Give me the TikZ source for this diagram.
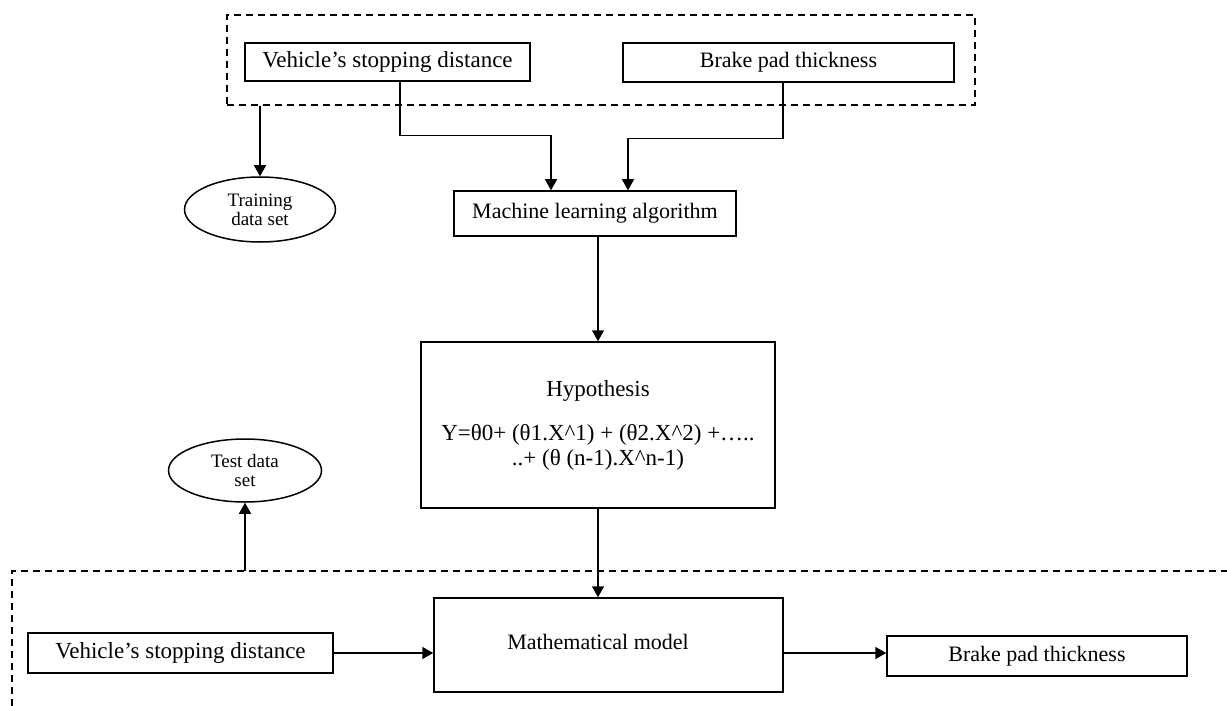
\documentclass[tikz,border=0pt]{standalone}
\usepackage{fontspec}
\setmainfont{Liberation Serif}
\usetikzlibrary{arrows.meta,shapes.geometric}
\begin{document}
\begin{tikzpicture}[x=1pt,y=-1pt,
  box/.style={draw, line width=1.5pt, inner sep=0pt, font=\fontsize{22}{25}\selectfont},
  ell/.style={draw, ellipse, line width=1.5pt, inner sep=0pt, align=center, font=\fontsize{19}{19}\selectfont},
  dsh/.style={draw, line width=1.4pt, dash pattern=on 7pt off 5pt},
  arr/.style={line width=1.5pt, -{Triangle[length=11pt,width=12pt]}}]
\useasboundingbox (0,0) rectangle (1227,706);
\node[dsh, minimum width=748pt, minimum height=90pt, inner sep=0pt] (grp) at (601,60) {};
\node[box, minimum width=285pt, minimum height=38pt, font=\fontsize{23}{25}\selectfont] (vtop) at (387.5,62) {Vehicle’s stopping distance};
\node[box, minimum width=331pt, minimum height=39pt] (btop) at (788.5,62.5) {Brake pad thickness};
\node[ell, minimum width=151pt, minimum height=65pt] (train) at (260,209.5) {Training\\data set};
\node[box, minimum width=282pt, minimum height=45pt] (ml) at (595,213.5) {Machine learning algorithm};
\node[box, minimum width=354pt, minimum height=166pt, align=center, font=\fontsize{23}{25}\selectfont] (hyp) at (598,425) {Hypothesis\\[19pt]Y=θ0+ (θ1.X\textasciicircum1) + (θ2.X\textasciicircum2) +…..\\..+ (θ (n-1).X\textasciicircum n-1)};
\node[ell, minimum width=153pt, minimum height=63pt] (test) at (245,470.5) {Test data\\set};
\node[box, minimum width=349pt, minimum height=94pt] (math) at (608.5,645) {};
\node[font=\fontsize{22}{25}\selectfont] (mtxt) at (598,642) {Mathematical model};
\node[box, minimum width=305pt, minimum height=40pt, font=\fontsize{23}{25}\selectfont] (vbot) at (180.5,653) {Vehicle’s stopping distance};
\node[box, minimum width=300pt, minimum height=40pt] (bbot) at (1037,656) {Brake pad thickness};
\coordinate (bl) at (12,706);
\coordinate (tl) at (12,571);
\coordinate (tr) at (1227,571);
\draw[dsh] (bl) -- (tl) -- (tr);
\draw[arr] ([xshift=12.5pt]vtop.south) -- ++(0,54) -| ([xshift=-44pt]ml.north);
\draw[arr] ([xshift=-5.5pt]btop.south) -- ++(0,56) -| ([xshift=33pt]ml.north);
\draw[arr] (grp.south -| train.north) -- (train.north);
\draw[arr] (ml.south -| hyp.north) -- (hyp.north);
\draw[arr] (hyp.south) -- (hyp.south |- math.north);
\draw[arr] (test.south |- tl) -- (test.south);
\draw[arr] (vbot.east) -- (vbot.east -| math.west);
\draw[arr] (math.east |- vbot.east) -- (bbot.west |- vbot.east);
\end{tikzpicture}
\end{document}
